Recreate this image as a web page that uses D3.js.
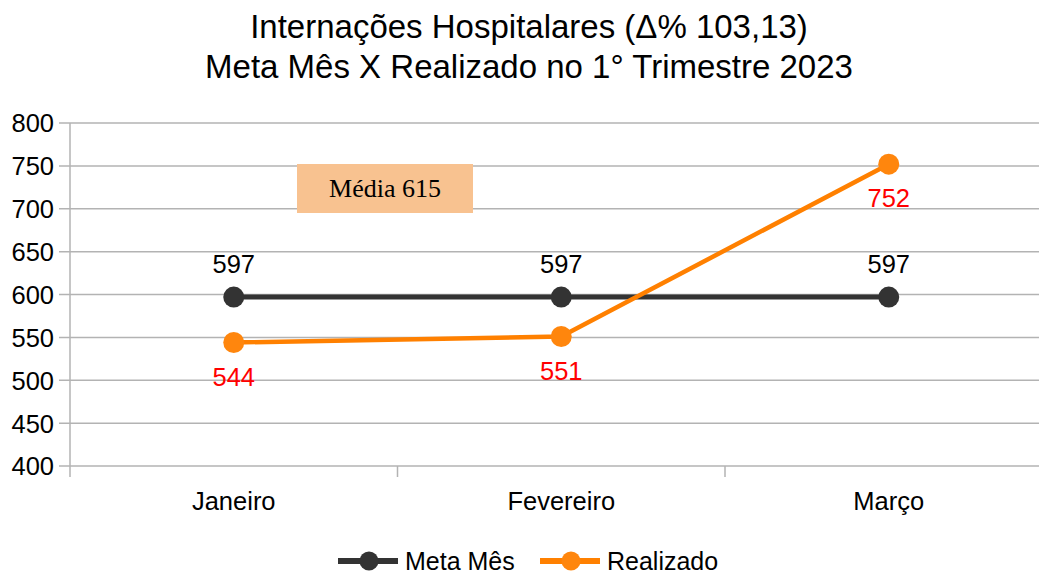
<!DOCTYPE html>
<html>
<head>
<meta charset="utf-8">
<script src="https://cdn.jsdelivr.net/npm/d3@7"></script>
<style>
  body { margin: 0; background: #fff; }
</style>
</head>
<body>
<div id="chart"></div>
<script>
// Chart data
var months = ["Janeiro", "Fevereiro", "Março"];
var metaMes = [597, 597, 597];
var realizado = [544, 551, 752];
var yTicks = [400, 450, 500, 550, 600, 650, 700, 750, 800];
var titleLines = ["Internações Hospitalares (\u0394% 103,13)", "Meta Mês X Realizado no 1° Trimestre 2023"];
var mediaText = "Média 615";

var width = 1039;
var height = 575;
var sans = "'Liberation Sans', Arial, sans-serif";

var svg = d3.select("#chart")
    .append("svg")
    .attr("width", width)
    .attr("height", height)
    .attr("font-family", sans);

// Scales
var xScale = d3.scaleBand()
    .domain(months)
    .range([70, 1052.5]);

var yScale = d3.scaleLinear()
    .domain([400, 800])
    .range([466, 123]);

var gridColor = "#b3b3b3";

// Gridlines
svg.append("g")
    .selectAll("line")
    .data(yTicks)
    .enter()
    .append("line")
    .attr("x1", 59)
    .attr("x2", width)
    .attr("y1", function(d) { return yScale(d); })
    .attr("y2", function(d) { return yScale(d); })
    .attr("stroke", gridColor)
    .attr("stroke-width", 1.5);

// Y axis
var yAxis = d3.axisLeft(yScale).tickValues(yTicks).tickSize(0).tickPadding(16);
var yG = svg.append("g")
    .attr("transform", "translate(70,0)")
    .call(yAxis);
yG.select(".domain").remove();
yG.selectAll("text")
    .attr("font-family", sans)
    .attr("font-size", 25.5)
    .attr("fill", "#000")
    .attr("dy", "0.35em");
svg.append("line")
    .attr("x1", 70).attr("x2", 70)
    .attr("y1", 123).attr("y2", 477)
    .attr("stroke", gridColor)
    .attr("stroke-width", 1.5);

// X axis ticks at band boundaries
svg.append("g")
    .selectAll("line")
    .data(months.slice(1))
    .enter()
    .append("line")
    .attr("x1", function(d) { return xScale(d); })
    .attr("x2", function(d) { return xScale(d); })
    .attr("y1", 466)
    .attr("y2", 477)
    .attr("stroke", gridColor)
    .attr("stroke-width", 1.5);

svg.append("g")
    .selectAll("text")
    .data(months)
    .enter()
    .append("text")
    .attr("x", function(d) { return xScale(d) + xScale.bandwidth() / 2; })
    .attr("y", 510)
    .attr("text-anchor", "middle")
    .attr("font-size", 25.5)
    .text(function(d) { return d; });

// Title
svg.append("g")
    .selectAll("text")
    .data(titleLines)
    .enter()
    .append("text")
    .attr("x", 529)
    .attr("y", function(d, i) { return 38 + i * 40; })
    .attr("text-anchor", "middle")
    .attr("font-size", 33)
    .text(function(d) { return d; });

// Média box
svg.append("rect")
    .attr("x", 297)
    .attr("y", 164)
    .attr("width", 176)
    .attr("height", 49)
    .attr("fill", "#f8c290");
svg.append("text")
    .attr("x", 385)
    .attr("y", 197)
    .attr("text-anchor", "middle")
    .attr("font-family", "'Liberation Serif', 'Times New Roman', serif")
    .attr("font-size", 26)
    .text(mediaText);

// Lines
var cx = function(d, i) { return xScale(months[i]) + xScale.bandwidth() / 2; };
var line = d3.line()
    .x(function(d, i) { return cx(d, i); })
    .y(function(d) { return yScale(d); });

var series = [
  { name: "Meta Mês", values: metaMes, color: "#333333", marker: "#333333", stroke: 5 },
  { name: "Realizado", values: realizado, color: "#ff8000", marker: "#ff860d", stroke: 4.5 }
];

series.forEach(function(s) {
  svg.append("path")
      .attr("d", line(s.values))
      .attr("fill", "none")
      .attr("stroke", s.color)
      .attr("stroke-width", s.stroke);
  svg.append("g")
      .selectAll("circle")
      .data(s.values)
      .enter()
      .append("circle")
      .attr("cx", cx)
      .attr("cy", function(d) { return yScale(d); })
      .attr("r", 10.5)
      .attr("fill", s.marker);
});

// Data labels
svg.append("g")
    .selectAll("text")
    .data(metaMes)
    .enter()
    .append("text")
    .attr("x", cx)
    .attr("y", function(d) { return yScale(d) - 24; })
    .attr("text-anchor", "middle")
    .attr("font-size", 25.5)
    .text(function(d) { return d; });

svg.append("g")
    .selectAll("text")
    .data(realizado)
    .enter()
    .append("text")
    .attr("x", cx)
    .attr("y", function(d) { return yScale(d) + 43; })
    .attr("text-anchor", "middle")
    .attr("font-size", 25.5)
    .attr("fill", "#ff0000")
    .text(function(d) { return d; });

// Legend
var legend = svg.append("g")
    .selectAll("g")
    .data(series)
    .enter()
    .append("g")
    .attr("transform", function(d, i) { return "translate(" + (338 + i * 202) + ",561)"; });
legend.append("line")
    .attr("x1", 0).attr("x2", 60)
    .attr("y1", 0).attr("y2", 0)
    .attr("stroke", function(d) { return d.color; })
    .attr("stroke-width", 6);
legend.append("circle")
    .attr("cx", 31)
    .attr("cy", 0)
    .attr("r", 9.5)
    .attr("fill", function(d) { return d.marker; });
legend.append("text")
    .attr("x", 67)
    .attr("y", 8.5)
    .attr("font-size", 25)
    .text(function(d) { return d.name; });
</script>
</body>
</html>
